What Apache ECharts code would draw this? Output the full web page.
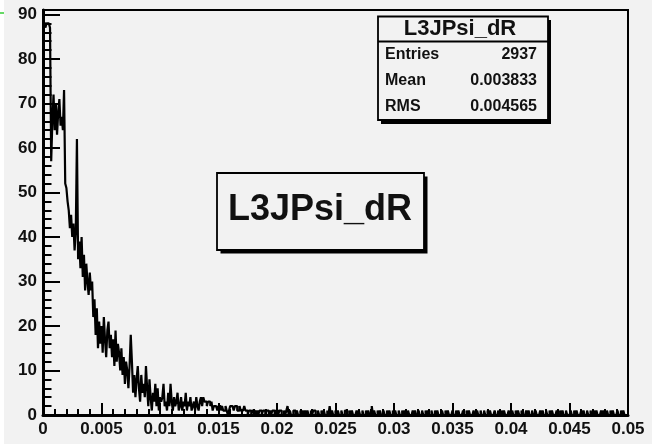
<!DOCTYPE html>
<html>
<head>
<meta charset="utf-8">
<script src="https://cdn.jsdelivr.net/npm/echarts@6/dist/echarts.min.js"></script>
<style>
  html, body { margin: 0; padding: 0; background: #f2f2f2; }
  #chart { width: 652px; height: 444px; }
</style>
</head>
<body>
<div id="chart"></div>
<script>
// Histogram binning: 500 bins of width 0.0001 over [0, 0.05]
const X_MIN = 0;
const X_MAX = 0.05;
const BIN_WIDTH = 0.0001;
const X_TICK_STEP = 0.005;
const Y_MAX = 91;
const Y_TICK_STEP = 10;

// Bin contents, bins 0–49
const countsPeak = [
  88, 88, 87, 88, 88, 88, 87, 57, 66, 72,
  64, 70, 63, 68, 71, 65, 67, 64, 73, 52,
  51, 48, 46, 42, 45, 40, 43, 37, 41, 62,
  35, 39, 33, 40, 31, 36, 28, 34, 30, 27,
  32, 28, 30, 22, 26, 18, 24, 15, 21, 16
];
// Bins 50–147
const countsFall = [
  20, 14, 22, 17, 13, 19, 21, 15, 18, 13,
  17, 11, 19, 12, 16, 14, 10, 15, 9, 13,
  7, 12, 10, 6, 11, 18, 12, 5, 9, 4,
  8, 11, 6, 3, 9, 5, 7, 4, 11, 6,
  2, 8, 4, 1, 5, 3, 7, 2, 6, 1,
  4, 3, 4, 7, 2, 3, 1, 5, 2, 7,
  3, 1, 4, 2, 3, 5, 1, 2, 4, 1,
  3, 2, 5, 1, 3, 2, 4, 1, 2, 3,
  1, 4, 2, 1, 3, 4, 2, 4, 3, 3,
  2, 3, 3, 2, 3, 1, 2, 2
];
// Bins 148–199
const countsShoulder = [
  2, 1, 2, 2, 1, 2, 1, 1, 2, 1, 0, 1, 2,
  2, 2, 1, 2, 2, 1, 1, 2, 1, 1, 1, 2,
  1, 1, 0, 1, 1, 0, 1, 1, 1, 0, 1, 0, 1, 1, 0, 1, 1, 0, 1, 1, 0, 1, 0, 1, 1, 0, 1
];
// Bins 200–499
const countsTail = [
  1,0,1,1,0,0,1,0,1,2,0,1,0,0,1,1,0,1,0,0,1,0,1,0,1,
  0,1,0,0,1,0,1,1,0,0,1,0,0,1,0,1,0,0,1,0,2,0,1,0,0,
  1,0,1,0,0,1,0,0,1,1,0,0,1,0,1,0,0,0,1,0,1,0,0,1,0,
  0,1,0,1,0,0,2,0,1,0,0,1,0,1,0,0,1,0,0,1,0,1,0,0,1,
  0,1,0,0,1,0,0,1,0,1,0,0,1,0,0,0,1,0,1,0,0,1,0,0,1,
  0,0,1,0,1,0,0,1,0,0,1,0,1,0,0,0,1,0,0,1,0,1,0,0,0,
  1,0,0,1,0,1,0,0,0,1,0,0,1,0,1,0,0,0,1,0,0,1,0,0,1,
  0,0,1,0,0,1,0,1,0,0,0,1,0,0,1,0,0,1,0,1,0,0,0,1,0,
  0,1,0,0,1,0,1,0,0,1,0,0,0,1,0,1,0,0,1,0,0,1,0,0,0,
  1,0,1,0,0,1,0,0,1,0,1,0,0,0,1,0,0,1,0,1,0,0,1,0,0,
  0,1,0,0,1,0,1,0,0,0,1,0,1,0,0,1,0,0,1,0,0,1,0,1,0,
  0,0,1,0,1,0,0,1,0,0,1,0,1,0,0,0,1,0,0,1,0,1,0,0,0
];

// Statistics box text
const histName = 'L3JPsi_dR';
const statLabels = ['Entries', 'Mean', 'RMS'];
const statValues = ['2937', '0.003833', '0.004565'];

const counts = countsPeak.concat(countsFall, countsShoulder, countsTail);

// Step outline: each point is a bin's lower edge with that bin's content,
// closed with the upper edge of the last bin.
const outline = counts.map((c, i) => [X_MIN + i * BIN_WIDTH, c]);
outline.push([X_MIN + counts.length * BIN_WIDTH, counts[counts.length - 1]]);

const FONT = '"Liberation Sans", Arial, Helvetica, sans-serif';
const INK = '#111';

const chart = echarts.init(document.getElementById('chart'), null, { renderer: 'canvas' });

chart.setOption({
  backgroundColor: '#f2f2f2',
  animation: false,
  grid: {
    left: 43, right: 24, top: 10, bottom: 29,
    show: true, borderColor: '#000', borderWidth: 2, backgroundColor: 'transparent'
  },
  xAxis: {
    type: 'value',
    min: X_MIN, max: X_MAX, interval: X_TICK_STEP,
    axisLine: { show: true, onZero: false, lineStyle: { color: '#000', width: 3 } },
    axisTick: { show: true, inside: true, length: 12, lineStyle: { color: '#000', width: 2 } },
    minorTick: { show: true, splitNumber: 5, length: 6, lineStyle: { color: '#000', width: 2 } },
    splitLine: { show: false },
    axisLabel: {
      margin: 6, fontSize: 17, fontWeight: 'bold', color: INK, fontFamily: FONT,
      formatter: v => String(Number(v.toFixed(4)))
    }
  },
  yAxis: {
    type: 'value',
    min: 0, max: Y_MAX, interval: Y_TICK_STEP,
    axisLine: { show: true, onZero: false, lineStyle: { color: '#000', width: 3 } },
    axisTick: { show: true, inside: true, length: 17, lineStyle: { color: '#000', width: 2 } },
    minorTick: { show: true, splitNumber: 5, length: 8.5, lineStyle: { color: '#000', width: 2 } },
    splitLine: { show: false },
    axisLabel: {
      margin: 6, fontSize: 17, fontWeight: 'bold', color: INK, fontFamily: FONT,
      formatter: v => (Math.abs(v % Y_TICK_STEP) < 1e-9 ? String(v) : '')
    }
  },
  series: [{
    type: 'line',
    step: 'end',
    data: outline,
    showSymbol: false,
    symbol: 'none',
    clip: true,
    lineStyle: { color: '#000', width: 2.2 }
  }],
  graphic: [
    { type: 'rect', shape: { x: 0, y: 0, width: 4, height: 444 }, style: { fill: '#fff' }, silent: true },
    { type: 'line', shape: { x1: 0, y1: 13, x2: 4, y2: 13 }, style: { stroke: '#33cc33', lineWidth: 1.5 }, silent: true },

    // statistics box
    { type: 'rect', shape: { x: 381, y: 20, width: 170, height: 104 }, style: { fill: '#000' }, silent: true },
    { type: 'rect', shape: { x: 378, y: 16.5, width: 170, height: 103.5 }, style: { fill: '#f2f2f2', stroke: '#000', lineWidth: 1.8 }, silent: true },
    { type: 'line', shape: { x1: 378, y1: 41.5, x2: 548, y2: 41.5 }, style: { stroke: '#000', lineWidth: 1.8 }, silent: true },
    { type: 'text', x: 460, y: 29, style: { text: histName, font: 'bold 22px ' + FONT, fill: INK, align: 'center', verticalAlign: 'middle' }, silent: true },
    ...statLabels.map((t, i) => ({
      type: 'text', x: 385, y: 55 + i * 26,
      style: { text: t, font: 'bold 16px ' + FONT, fill: INK, align: 'left', verticalAlign: 'middle' }, silent: true
    })),
    ...statValues.map((t, i) => ({
      type: 'text', x: 537, y: 55 + i * 26,
      style: { text: t, font: 'bold 16px ' + FONT, fill: INK, align: 'right', verticalAlign: 'middle' }, silent: true
    })),

    // title box
    { type: 'rect', shape: { x: 220.5, y: 176.5, width: 207, height: 77 }, style: { fill: '#000' }, silent: true },
    { type: 'rect', shape: { x: 217, y: 173, width: 207, height: 77 }, style: { fill: '#f2f2f2', stroke: '#000', lineWidth: 1.8 }, silent: true },
    { type: 'text', x: 320, y: 210, style: { text: histName, font: 'bold 36px ' + FONT, fill: INK, align: 'center', verticalAlign: 'middle' }, silent: true }
  ]
});
</script>
</body>
</html>
